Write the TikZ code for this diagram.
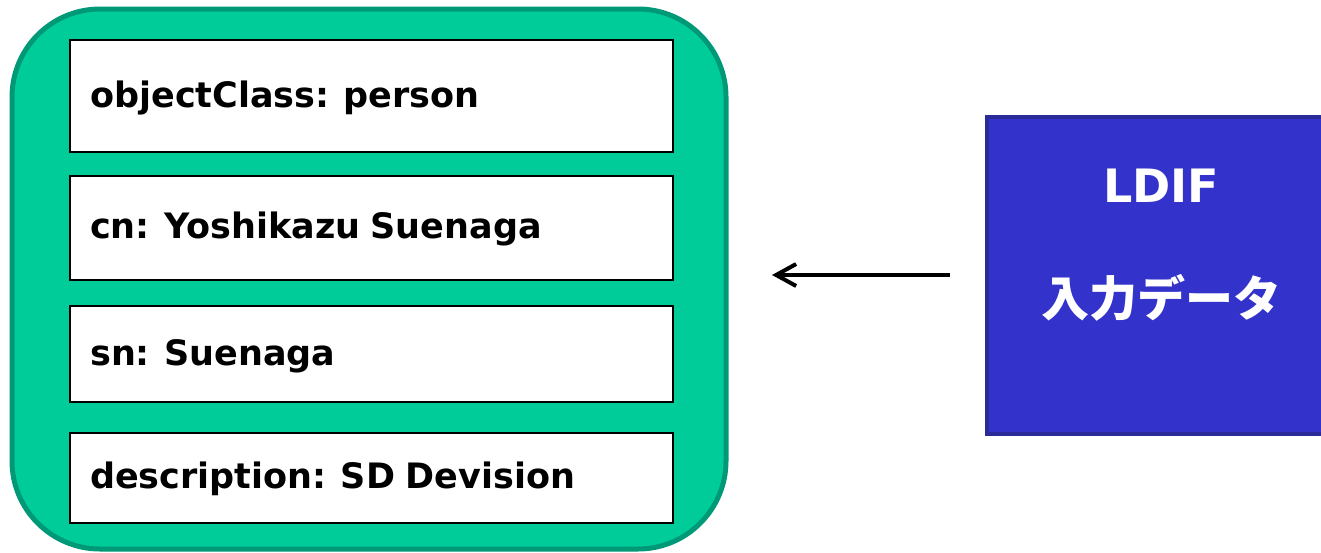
\documentclass[tikz,border=0pt]{standalone}
\usepackage{fontspec}
\usetikzlibrary{arrows.meta}
\newfontfamily\attrfont{DejaVu Sans}[WordSpace=0.85]
\newfontfamily\jpfont{Noto Sans CJK JP}
\definecolor{entryfill}{HTML}{00CC99}
\definecolor{entryline}{HTML}{009977}
\definecolor{ldiffill}{HTML}{3333CC}
\definecolor{ldifline}{HTML}{2A2A99}
\begin{document}
\begin{tikzpicture}[x=1pt,y=-1pt,
  entrybox/.style={fill=entryfill,draw=entryline,line width=5pt,rounded corners=88pt},
  attrbox/.style={fill=white,draw=black,line width=2.5pt},
  attrtext/.style={anchor=base west,inner sep=0pt,font=\attrfont\bfseries\fontsize{35}{40}\selectfont},
  ldifbox/.style={fill=ldiffill,draw=ldifline,line width=4pt},
  ldiftext/.style={anchor=base,inner sep=0pt,text=white},
  feed/.style={line width=3.5pt,-{Straight Barb[length=20pt,width=22pt,line width=4pt]}}]
\useasboundingbox (0,0) rectangle (1321,552);

% LDAP entry with its attributes
\draw[entrybox] (12,9) rectangle (726,549);
\draw[attrbox] (70,40) rectangle (673,152);
\draw[attrbox] (70,176) rectangle (673,280);
\draw[attrbox] (70,306) rectangle (673,402);
\draw[attrbox] (70,433) rectangle (673,523);
\node[attrtext] (oc) at (90,107) {objectClass: person};
\node[attrtext] (cn) at (90,238) {cn: Yoshikazu Suenaga};
\node[attrtext] (sn) at (90,365) {sn: Suenaga};
\node[attrtext] (desc) at (90,488) {description: SD Devision};

% LDIF input data
\draw[ldifbox] (987,117) rectangle (1335,434);
\node[ldiftext,font=\attrfont\bfseries\fontsize{46}{50}\selectfont] (ldif) at (1161,202) {LDIF};
\node[ldiftext,font=\jpfont\bfseries\fontsize{48}{52}\selectfont] (input) at (1161,316) {入力データ};

% import direction
\coordinate (from) at (950,275);
\coordinate (to) at (772,275);
\draw[feed] (from) -- (to);
\end{tikzpicture}
\end{document}
